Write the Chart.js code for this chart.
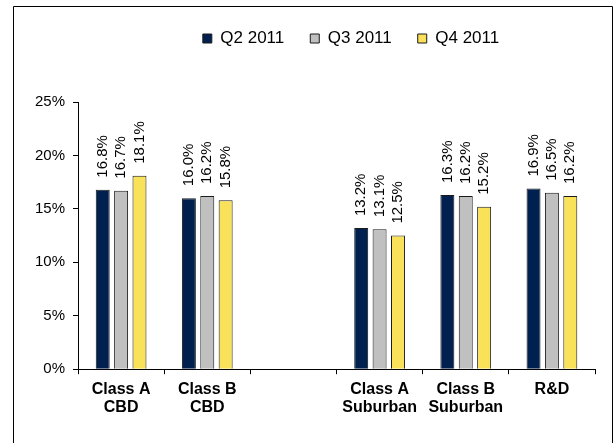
<!DOCTYPE html>
<html>
<head>
<meta charset="utf-8">
<script src="https://cdn.jsdelivr.net/npm/chart.js@4.4.1/dist/chart.umd.min.js"></script>
<style>
  body { margin: 0; background: #fff; }
  #wrap { width: 614px; height: 443px; }
</style>
</head>
<body>
<div id="wrap"><canvas id="myChart" width="614" height="443"></canvas></div>
<script>
// categories (blank slot between CBD and Suburban groups)
var categories = [['Class A', 'CBD'], ['Class B', 'CBD'], '', ['Class A', 'Suburban'], ['Class B', 'Suburban'], 'R&D'];
var seriesNames = ['Q2 2011', 'Q3 2011', 'Q4 2011'];
var q2Values = [16.8, 16.0, null, 13.2, 16.3, 16.9];
var q3Values = [16.7, 16.2, null, 13.1, 16.2, 16.5];
var q4Values = [18.1, 15.8, null, 12.5, 15.2, 16.2];
var yTicks = [0, 5, 10, 15, 20, 25];

var colors = ['#002050', '#C0C0C0', '#F9E15A'];

// outer frame + white background
var framePlugin = {
    id: 'frame',
    beforeDraw: function (chart) {
        var c = chart.ctx;
        c.save();
        c.fillStyle = '#fff';
        c.fillRect(0, 0, chart.width, chart.height);
        c.strokeStyle = '#000';
        c.lineWidth = 1;
        c.beginPath();
        c.moveTo(13.5, chart.height + 5);
        c.lineTo(13.5, 6.5);
        c.lineTo(612.5, 6.5);
        c.lineTo(612.5, chart.height + 5);
        c.stroke();
        c.restore();
    }
};

// make room between legend and plot, and nudge legend to the right
var legendGap = {
    id: 'legendGap',
    beforeInit: function (chart) {
        var fit = chart.legend.fit;
        chart.legend.fit = function () {
            fit.bind(chart.legend)();
            this.height += 47;
        };
    },
    afterLayout: function (chart) {
        chart.legend.left += 40;
        chart.legend.right += 40;
        chart.legend.top += 2;
    }
};

// rotated value labels above bars
var valueLabels = {
    id: 'valueLabels',
    afterDatasetsDraw: function (chart) {
        var c = chart.ctx;
        c.save();
        c.font = '15px "Liberation Sans", Arial, sans-serif';
        c.fillStyle = '#000';
        c.textAlign = 'left';
        c.textBaseline = 'middle';
        chart.data.datasets.forEach(function (ds, i) {
            var meta = chart.getDatasetMeta(i);
            meta.data.forEach(function (bar, j) {
                var v = ds.data[j];
                if (v === null || v === undefined) return;
                c.save();
                c.translate(bar.x, bar.y - 12);
                c.rotate(-Math.PI / 2);
                c.fillText(v.toFixed(1) + '%', 0, 0);
                c.restore();
            });
        });
        c.restore();
    }
};

var allValues = [q2Values, q3Values, q4Values];
var datasets = seriesNames.map(function (name, i) {
    return {
        label: name,
        data: allValues[i],
        backgroundColor: colors[i],
        borderColor: '#1a1a1a',
        borderWidth: 1,
        categoryPercentage: 0.64,
        barPercentage: 0.76
    };
});

const config = {
    type: 'bar',
    data: { labels: categories, datasets: datasets },
    options: {
        responsive: false,
        animation: false,
        layout: { padding: { top: 2, left: 27, right: 19, bottom: 20 } },
        plugins: {
            legend: {
                position: 'top',
                labels: {
                    boxWidth: 9,
                    boxHeight: 9,
                    padding: 26,
                    color: '#000',
                    font: { size: 17, family: '"Liberation Sans", Arial, sans-serif' }
                }
            },
            tooltip: { enabled: false }
        },
        scales: {
            x: {
                grid: { drawOnChartArea: false, color: '#000', tickLength: 5, offset: true },
                border: { color: '#000', width: 1 },
                ticks: {
                    color: '#000',
                    padding: 6,
                    maxRotation: 0,
                    autoSkip: false,
                    font: { size: 16, weight: 'bold', family: '"Liberation Sans", Arial, sans-serif', lineHeight: 1.15 }
                }
            },
            y: {
                min: 0,
                max: 25,
                afterBuildTicks: function (axis) {
                    axis.ticks = yTicks.map(function (v) { return { value: v }; });
                },
                grid: { drawOnChartArea: false, color: '#000', tickLength: 5 },
                border: { color: '#000', width: 1 },
                ticks: {
                    color: '#000',
                    padding: 8,
                    font: { size: 15, family: '"Liberation Sans", Arial, sans-serif' },
                    callback: function (v) { return v + '%'; }
                }
            }
        }
    },
    plugins: [framePlugin, legendGap, valueLabels]
};

var myChart = new Chart(document.getElementById('myChart'), config);
</script>
</body>
</html>
